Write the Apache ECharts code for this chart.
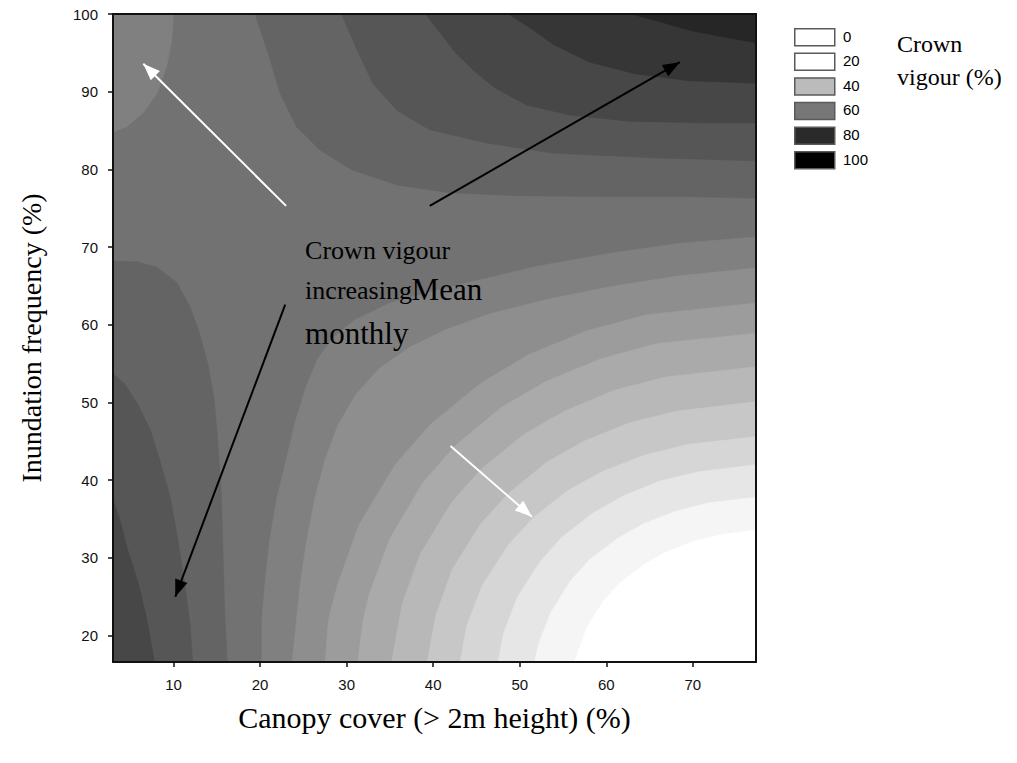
<!DOCTYPE html>
<html><head><meta charset="utf-8">
<script src="https://cdn.jsdelivr.net/npm/echarts@6/dist/echarts.min.js"></script>
<style>html,body{margin:0;padding:0;background:#fff}#c{width:1017px;height:763px}</style>
</head><body><div id="c"></div>
<script>
// ---- axes ----
const xRange = [3, 77.3];
const yRange = [16.6, 100];
const xTicks = [10, 20, 30, 40, 50, 60, 70];
const yTicks = [20, 30, 40, 50, 60, 70, 80, 90, 100];
const xTitle = 'Canopy cover (> 2m height) (%)';
const yTitle = 'Inundation frequency (%)';

// ---- band grey levels (band 0 = lightest) ----
const bandGrays = [255, 245, 230, 214, 199, 184, 170, 156, 142, 128, 114, 100, 86, 71, 54, 38];

// ---- contour lines [canopy %, inundation %] ----
// upper-right family (top edge -> right edge)
const c15  = [[62.9,100],[66.2,99.0],[69.6,97.9],[73.7,97.0],[77.3,96.3]];
const c14  = [[48.7,100],[51.2,98.2],[54.0,96.0],[58.1,93.8],[63.3,92.3],[69.6,91.4],[77.3,91.1]];
const c13a = [[39.1,100],[40.8,97.6],[42.5,95.1],[44.6,92.8],[47.1,90.5],[50.8,88.3],[55.8,87.0],[62.7,86.2],[70.8,86.0],[77.3,86.0]];
const c12a = [[29.4,100],[31.2,95.4],[33.0,91.1],[35.8,87.6],[39.6,85.1],[46.2,83.4],[53.8,82.1],[65.4,81.5],[77.3,81.1]];
const c11a = [[19.4,100],[20.8,95.4],[22.3,89.8],[24.2,85.5],[26.9,82.5],[30.7,79.9],[35.8,78.0],[41.9,77.0],[50.0,76.6],[59.2,76.5],[68.5,76.5],[77.3,76.3]];
// upper-left corner (top edge -> left edge)
const c10a = [[10.0,100],[9.8,96.7],[9.2,93.2],[8.1,89.8],[6.5,87.3],[4.6,85.5],[3.0,84.8]];
// lower-left family (left edge -> bottom edge)
const c11b = [[3.0,68.2],[5.8,68.1],[8.1,67.4],[10.4,65.4],[11.9,62.3],[13.0,58.9],[14.0,54.8],[14.7,50.3],[15.1,45.2],[15.5,38.7],[15.7,31.0],[15.9,23.3],[16.2,16.6]];
const c12b = [[3.0,53.7],[4.4,52.3],[5.9,49.7],[7.3,46.5],[8.4,42.6],[9.6,37.8],[10.5,32.3],[11.3,26.5],[11.9,21.4],[12.2,16.6]];
const c13b = [[3.0,37.5],[3.8,34.9],[4.7,31.0],[5.8,27.2],[6.8,22.7],[7.8,16.6]];
// lower-right family (bottom edge -> right edge)
const c10b = [[20.2,16.6],[20.2,22.0],[20.6,27.2],[21.1,32.3],[21.9,37.5],[23.0,42.6],[24.1,47.7],[25.4,52.3],[26.7,55.7],[28.4,58.3],[30.9,60.6],[35.0,62.8],[39.6,64.2],[45.4,65.8],[52.3,67.6],[60.4,69.2],[68.5,70.5],[77.3,71.3]];
const c9 = [[23.7,16.6],[24.2,22.0],[24.7,27.2],[25.4,32.3],[26.3,37.5],[27.5,42.6],[29.0,47.1],[31.1,51.1],[33.8,54.4],[37.3,57.1],[41.3,59.3],[46.5,61.4],[52.9,63.2],[60.4,64.9],[68.5,66.3],[77.3,67.3]];
const c8 = [[27.5,16.6],[27.9,22.0],[28.9,26.4],[31.4,34.2],[35.6,42.0],[39.7,47.2],[45.4,52.4],[50.9,56.1],[57.7,59.2],[64.7,61.3],[77.3,62.8]];
const c7 = [[31.3,16.6],[31.9,22.0],[32.6,25.3],[35.0,32.5],[38.8,39.7],[42.6,44.5],[47.9,49.4],[53.0,52.7],[59.3,55.6],[65.9,57.6],[77.3,58.9]];
const c6 = [[35.2,16.6],[36.4,24.0],[38.5,30.5],[42.1,37.1],[45.6,41.5],[50.5,45.9],[55.2,48.9],[61.0,51.6],[67.0,53.3],[77.3,54.6]];
const c5 = [[39.3,16.6],[40.3,22.6],[42.2,28.5],[45.5,34.4],[48.7,38.3],[53.1,42.3],[57.4,45.0],[62.7,47.4],[68.2,48.9],[77.3,50.1]];
const c4 = [[43.1,16.6],[43.9,21.3],[45.7,26.5],[48.7,31.7],[51.6,35.2],[55.6,38.7],[59.5,41.1],[64.4,43.2],[69.4,44.6],[77.3,45.6]];
const c3 = [[47.5,16.6],[48.1,20.2],[49.7,24.9],[52.4,29.6],[54.9,32.7],[58.5,35.8],[62.0,38.0],[66.2,39.9],[70.7,41.1],[77.3,42.0]];
const c2 = [[51.7,16.6],[52.2,19.0],[53.6,23.0],[55.9,27.1],[58.1,29.8],[61.3,32.5],[64.3,34.4],[68.0,36.0],[71.9,37.1],[77.3,37.8]];
const c1 = [[56.3,16.6],[57.8,21.1],[59.7,24.5],[61.6,26.8],[64.3,29.1],[66.8,30.7],[70.0,32.1],[73.3,33.0],[77.3,33.6]];

// ---- arrows [from, to] ----
const arrowFrom  = [[23.0,75.3],[39.6,75.3],[22.9,62.6],[42.0,44.4]];
const arrowTo    = [[6.5,93.6],[68.5,93.8],[10.2,25.0],[51.4,35.3]];
const arrowColor = ['#ffffff','#000000','#000000','#ffffff'];

// ---- annotation text ----
const noteTexts = ['Crown vigour', 'increasing', 'Mean', 'monthly'];
const notePos   = [[25.2,69.5],[25.2,64.35],[37.5,64.55],[25.2,58.9]];
const noteSize  = [26, 26, 31, 31];

// ---- legend ----
const legendLabels = ['0','20','40','60','80','100'];
const legendFills  = ['#ffffff','#ffffff','#bbbbbb','#777777','#2a2a2a','#000000'];
const legendTitle  = ['Crown', 'vigour (%)'];

// ---------------------------------------------------------------
const gray = b => { const g = bandGrays[b]; return 'rgb(' + g + ',' + g + ',' + g + ')'; };
const TR = [xRange[1], yRange[1]], TL = [xRange[0], yRange[1]];
const BL = [xRange[0], yRange[0]], BR = [xRange[1], yRange[0]];
const regions = [
  {pts: c11a, corner: TR, band: 11}, {pts: c12a, corner: TR, band: 12},
  {pts: c13a, corner: TR, band: 13}, {pts: c14, corner: TR, band: 14},
  {pts: c15, corner: TR, band: 15},
  {pts: c11b, corner: BL, band: 11}, {pts: c12b, corner: BL, band: 12},
  {pts: c13b, corner: BL, band: 13},
  {pts: c10a, corner: TL, band: 9},
  {pts: c10b, corner: BR, band: 9}, {pts: c9, corner: BR, band: 8},
  {pts: c8, corner: BR, band: 7}, {pts: c7, corner: BR, band: 6},
  {pts: c6, corner: BR, band: 5}, {pts: c5, corner: BR, band: 4},
  {pts: c4, corner: BR, band: 3}, {pts: c3, corner: BR, band: 2},
  {pts: c2, corner: BR, band: 1}, {pts: c1, corner: BR, band: 0}
];

const serif = "'Liberation Serif','Times New Roman',serif";
const sans = "'Liberation Sans',Arial,sans-serif";

const chart = echarts.init(document.getElementById('c'), null, {renderer: 'svg'});

const legendGraphics = [];
legendLabels.forEach((lab, i) => {
  const top = 28 + i * 24.6;
  legendGraphics.push({type: 'rect', left: 794, top: top, shape: {width: 40, height: 17},
    style: {fill: legendFills[i], stroke: '#5a5a5a', lineWidth: 1.5}});
  legendGraphics.push({type: 'text', left: 843, top: top + 0.5, style: {text: lab, font: '15px ' + sans, fill: '#000'}});
});
legendTitle.forEach((t, i) => {
  legendGraphics.push({type: 'text', left: 897, top: 32 + i * 33, style: {text: t, font: '24px ' + serif, fill: '#000'}});
});

const axisLineStyle = {color: '#111', width: 2};
chart.setOption({
  animation: false,
  backgroundColor: '#ffffff',
  grid: {left: 113, right: 261, top: 14, bottom: 101, show: true, backgroundColor: gray(10), borderWidth: 0},
  xAxis: [{
    type: 'value', min: xRange[0], max: xRange[1], position: 'bottom', z: 10,
    name: xTitle, nameLocation: 'middle', nameGap: 40,
    nameTextStyle: {fontFamily: serif, fontSize: 30, color: '#000'},
    axisLine: {show: true, onZero: false, lineStyle: axisLineStyle},
    axisTick: {show: true, inside: false, length: 5, customValues: xTicks, lineStyle: {color: '#111', width: 1.5}},
    axisLabel: {customValues: xTicks, margin: 15, fontFamily: sans, fontSize: 15, color: '#111'},
    splitLine: {show: false}
  }, {
    type: 'value', min: xRange[0], max: xRange[1], position: 'top', z: 10,
    axisLine: {show: true, onZero: false, lineStyle: axisLineStyle},
    axisTick: {show: false}, axisLabel: {show: false}, splitLine: {show: false}
  }],
  yAxis: [{
    type: 'value', min: yRange[0], max: yRange[1], position: 'left', z: 10,
    name: yTitle, nameLocation: 'middle', nameGap: 68,
    nameTextStyle: {fontFamily: serif, fontSize: 28, color: '#000'},
    axisLine: {show: true, onZero: false, lineStyle: axisLineStyle},
    axisTick: {show: true, inside: false, length: 5, customValues: yTicks, lineStyle: {color: '#111', width: 1.5}},
    axisLabel: {customValues: yTicks, margin: 15, fontFamily: sans, fontSize: 15, color: '#111'},
    splitLine: {show: false}
  }, {
    type: 'value', min: yRange[0], max: yRange[1], position: 'right', z: 10,
    axisLine: {show: true, onZero: false, lineStyle: axisLineStyle},
    axisTick: {show: false}, axisLabel: {show: false}, splitLine: {show: false}
  }],
  graphic: legendGraphics,
  series: [{
    type: 'custom',
    coordinateSystem: 'cartesian2d',
    clip: true,
    silent: true,
    data: regions.map(r => r.pts[0].slice()),
    renderItem: function (params, api) {
      const r = regions[params.dataIndex];
      const pts = r.pts.concat([r.corner]).map(p => api.coord(p));
      return {type: 'polygon', shape: {points: pts},
        style: {fill: gray(r.band), stroke: gray(r.band), lineWidth: 0.6}};
    },
    markLine: {
      silent: true, animation: false,
      symbol: ['none', 'triangle'], symbolSize: [13, 17],
      symbolOffset: [0, [0, 8.5]],
      label: {show: false},
      data: arrowFrom.map((f, i) => [
        {coord: f, lineStyle: {color: arrowColor[i], width: 2, type: 'solid'}, itemStyle: {color: arrowColor[i]}},
        {coord: arrowTo[i]}
      ])
    },
    markPoint: {
      silent: true, animation: false,
      symbol: 'rect', symbolSize: 0,
      data: noteTexts.map((t, i) => ({
        coord: notePos[i], value: t,
        label: {show: true, position: [0, 0], align: 'left', verticalAlign: 'middle',
          formatter: t, fontFamily: serif, fontSize: noteSize[i], color: '#000'}
      }))
    }
  }]
});
</script></body></html>
